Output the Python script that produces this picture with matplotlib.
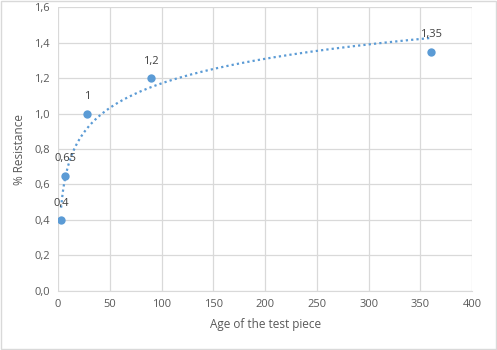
#!/usr/bin/env python3
"""Resistance vs age of the test piece, with a logarithmic trendline."""

import numpy as np
import matplotlib.pyplot as plt
from matplotlib.patches import Rectangle

ages = [3, 7, 28, 90, 360]
resistance = [0.4, 0.65, 1.0, 1.2, 1.35]
point_labels = ["0,4", "0,65", "1", "1,2", "1,35"]

x_ticks = [0, 50, 100, 150, 200, 250, 300, 350, 400]
y_ticks = [0.0, 0.2, 0.4, 0.6, 0.8, 1.0, 1.2, 1.4, 1.6]

BLUE = "#5B9BD5"
GRID = "#D9D9D9"
TEXT = "#595959"

plt.rcParams["font.family"] = ["Open Sans", "DejaVu Sans"]

fig = plt.figure(figsize=(4.97, 3.5), dpi=100)
ax = fig.add_axes([0.1167, 0.1694, 0.8333, 0.8097])

# log trendline like Excel: y = a*ln(x) + b, fitted to the points
a, b = np.polyfit(np.log(ages), resistance, 1)
xs = np.linspace(min(ages), max(ages), 400)
ax.plot(xs, a * np.log(xs) + b, color=BLUE, linewidth=1.6,
        linestyle=(0, (1, 1.4)), zorder=2)

ax.scatter(ages, resistance, s=36, color=BLUE, zorder=3, linewidths=0)

for x, y, lab in zip(ages, resistance, point_labels):
    ax.annotate(lab, (x, y), xytext=(0, 8), textcoords="offset points",
                ha="center", va="bottom", fontsize=8, color="#404040")

ax.set_xlim(0, 400)
ax.set_ylim(0, 1.6)
ax.set_xticks(x_ticks)
ax.set_yticks(y_ticks)
ax.set_xticklabels([str(v) for v in x_ticks])
ax.set_yticklabels([f"{v:.1f}".replace(".", ",") for v in y_ticks])
ax.tick_params(length=0, labelsize=8, colors=TEXT, pad=6)

ax.grid(True, color=GRID, linewidth=0.9)
ax.set_axisbelow(True)
for side in ["top", "right", "left"]:
    ax.spines[side].set_visible(False)
ax.spines["bottom"].set_color(GRID)

ax.set_xlabel("Age of the test piece", fontsize=8.5, color=TEXT, labelpad=6)
ax.set_ylabel("% Resistance", fontsize=8.5, color=TEXT, labelpad=6)

fig.patches.append(Rectangle((0.002, 0.003), 0.996, 0.994, transform=fig.transFigure,
                             fill=False, edgecolor=GRID, linewidth=1))

fig.savefig("out.png", dpi=100)
